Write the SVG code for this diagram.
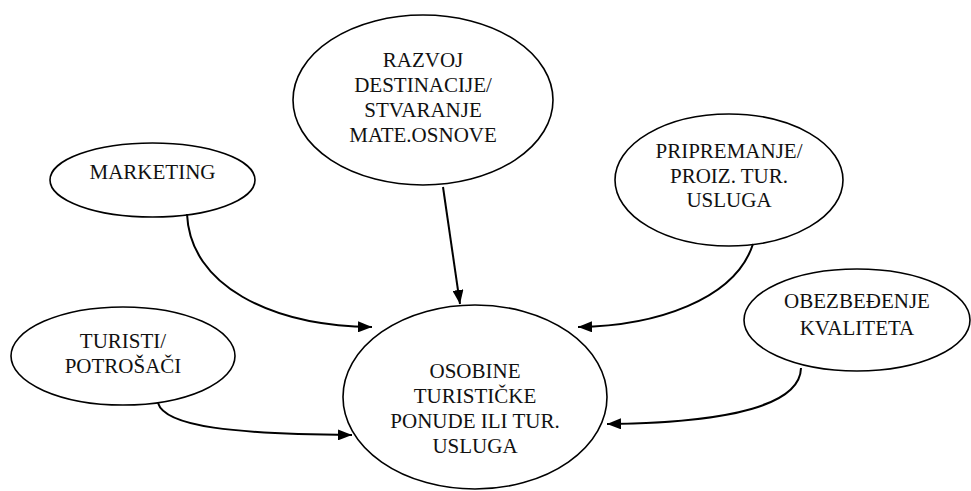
<svg xmlns="http://www.w3.org/2000/svg" width="971" height="491" viewBox="0 0 971 491">
<style>
.n{fill:#fff;stroke:#000;stroke-width:1.6}
.t{font-size:21px;fill:#111;text-anchor:middle}
.c{fill:none;stroke:#000;stroke-width:2}
</style>
<defs>
<marker id="ah" viewBox="0 0 14 11" refX="14" refY="5.5" markerWidth="14" markerHeight="11" markerUnits="userSpaceOnUse" orient="auto">
<path d="M0,0 L14,5.5 L0,11 Z" fill="#000"/>
</marker>
</defs>
<rect width="971" height="491" fill="#fff"/>
<g font-family="'Liberation Serif', 'Times New Roman', 'DejaVu Serif', serif">
<g id="razvoj">
<ellipse class="n" cx="423" cy="100" rx="130" ry="85"/>
<text class="t" x="423" y="67">RAZVOJ</text>
<text class="t" x="423" y="92">DESTINACIJE/</text>
<text class="t" x="423" y="117">STVARANJE</text>
<text class="t" x="423" y="142">MATE.OSNOVE</text>
</g>
<g id="marketing">
<ellipse class="n" cx="152.5" cy="180" rx="102.5" ry="37"/>
<text class="t" x="152.5" y="179">MARKETING</text>
</g>
<g id="pripremanje">
<ellipse class="n" cx="729" cy="180" rx="114" ry="66"/>
<text class="t" x="729" y="158">PRIPREMANJE/</text>
<text class="t" x="729" y="183">PROIZ. TUR.</text>
<text class="t" x="729" y="207">USLUGA</text>
</g>
<g id="turisti">
<ellipse class="n" cx="123" cy="356" rx="112" ry="49"/>
<text class="t" x="123" y="348">TURISTI/</text>
<text class="t" x="123" y="373">POTROŠAČI</text>
</g>
<g id="obezbedjenje">
<ellipse class="n" cx="857" cy="320" rx="113" ry="51"/>
<text class="t" x="857" y="308">OBEZBEĐENJE</text>
<text class="t" x="857" y="335">KVALITETA</text>
</g>
<g id="osobine">
<ellipse class="n" cx="475" cy="397" rx="132" ry="92"/>
<text class="t" x="475" y="378">OSOBINE</text>
<text class="t" x="475" y="403">TURISTIČKE</text>
<text class="t" x="475" y="428">PONUDE ILI TUR.</text>
<text class="t" x="475" y="453">USLUGA</text>
</g>
</g>
<g id="connectors">
<path class="c" marker-end="url(#ah)" d="M443,187 L460,304"/>
<path class="c" marker-end="url(#ah)" d="M187,214 C190,285 270,326 372,327"/>
<path class="c" marker-end="url(#ah)" d="M158,403 C165,427 235,434 352,435"/>
<path class="c" marker-end="url(#ah)" d="M753,244 C735,300 655,326 578,327"/>
<path class="c" marker-end="url(#ah)" d="M801,368 C800,412 700,423 607,424"/>
</g>
</svg>
